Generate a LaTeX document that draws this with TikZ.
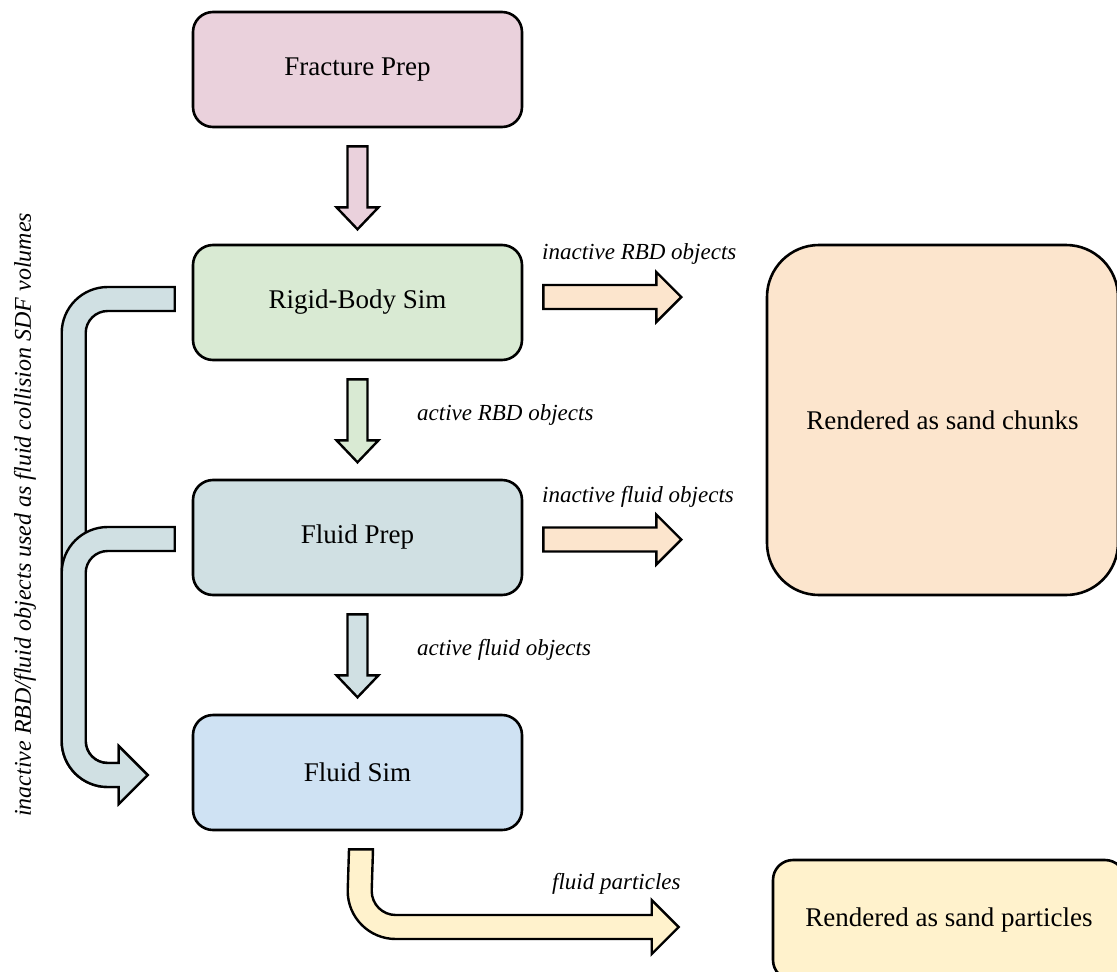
\documentclass[tikz,border=0pt]{standalone}
\usepackage{fontspec}
\setmainfont{Liberation Serif}
\usetikzlibrary{calc}

\definecolor{cPink}{HTML}{EAD1DC}
\definecolor{cGreen}{HTML}{D9EAD3}
\definecolor{cCyan}{HTML}{D0E0E3}
\definecolor{cBlue}{HTML}{CFE2F3}
\definecolor{cOrange}{HTML}{FCE5CD}
\definecolor{cYellow}{HTML}{FFF2CC}

\tikzset{
  stage/.style={draw=black, line width=2.6pt, rounded corners=20pt,
    minimum width=329pt, minimum height=115pt, inner sep=0pt,
    font=\fontsize{27}{32}\selectfont, text=black},
  lbl/.style={inner sep=0pt, font=\itshape\fontsize{23}{28}\selectfont, text=black},
  blockarrow/.style={draw=black, line width=2.4pt, line join=miter, miter limit=10},
  downarr/.pic={\path[pic actions] (-10,0) -- (10,0) -- (10,-61) -- (21,-61)
      -- (0,-83) -- (-21,-61) -- (-10,-61) -- cycle;},
  rightarr/.pic={\path[pic actions] (0,12) -- (113,12) -- (113,25) -- (138,0)
      -- (113,-25) -- (113,-12) -- (0,-12) -- cycle;}
}

% bent feedback arrow: tail at #1 (upper outer corner), head tip at #2
\newcommand\sideArrow[2]{%
  \draw[blockarrow, fill=cCyan] (#1) -- ++(-67,0)
    arc[start angle=90, end angle=180, radius=46]
    -- ($(#2)+(-86,34)$)
    arc[start angle=180, end angle=270, radius=46]
    -- ($(#2)+(-29,-12)$) -- ++(0,-17) -- (#2) -- ($(#2)+(-29,29)$)
    -- ++(0,-17) -- ++(-11,0)
    arc[start angle=270, end angle=180, radius=22]
    -- ($(#1)+(-89,-46)$)
    arc[start angle=180, end angle=90, radius=22]
    -- ($(#1)+(0,-24)$) -- cycle;}

\begin{document}
\begin{tikzpicture}[x=1pt, y=1pt]
\useasboundingbox (0,0) rectangle (1117,-972);
\clip (0,0) rectangle (1117,-972);

% pipeline stages
\node[stage, fill=cPink]  (frac)  at (357.5,-69.5)  {Fracture Prep};
\node[stage, fill=cGreen] (rbd)   at (357.5,-302.5) {Rigid-Body Sim};
\node[stage, fill=cCyan]  (fprep) at (357.5,-537.5) {Fluid Prep};
\node[stage, fill=cBlue]  (fsim)  at (357.5,-772.5) {Fluid Sim};

% render outputs
\node[stage, fill=cOrange, rounded corners=52pt, minimum width=351pt,
      minimum height=350pt] (chunks) at (942.5,-420) {Rendered as sand chunks};
\node[stage, fill=cYellow, minimum width=352pt, minimum height=120pt]
      (parts) at (949,-920) {Rendered as sand particles};

% straight block arrows down the pipeline
\pic[blockarrow, fill=cPink]  at ($(frac.south)+(0,-18)$)  {downarr};
\pic[blockarrow, fill=cGreen] at ($(rbd.south)+(0,-18)$)   {downarr};
\pic[blockarrow, fill=cCyan]  at ($(fprep.south)+(0,-18)$) {downarr};

% block arrows toward the chunk renderer
\pic[blockarrow, fill=cOrange] at ($(rbd.east)+(20,5.5)$)  {rightarr};
\pic[blockarrow, fill=cOrange] at ($(fprep.east)+(20,-2)$) {rightarr};

% collision volumes fed back into the fluid sim
\coordinate (tailA) at ($(rbd.west)+(-17,15.5)$);
\coordinate (tailB) at ($(fprep.west)+(-17,10.5)$);
\coordinate (tipA)  at ($(fsim.west)+(-44,-2.5)$);
\sideArrow{tailA}{tipA}
\sideArrow{tailB}{tipA}

% fluid particles to the particle renderer
\coordinate (tailC) at ($(fsim.south)+(-8.5,-18)$);
\coordinate (tipC)  at ($(parts.west)+(-93,-7)$);
\draw[blockarrow, fill=cYellow] (tailC) -- ++(24,0)
  -- ($(tipC)+(-307,36)$)
  arc[start angle=180, end angle=270, radius=24]
  -- ($(tipC)+(-27,12)$) -- ++(0,15) -- (tipC) -- ($(tipC)+(-27,-27)$)
  -- ++(0,15) -- ++(-256,0)
  arc[start angle=270, end angle=180, radius=48]
  -- cycle;

% labels
\node[lbl, anchor=west] (lA) at (542,-254) {inactive RBD objects};
\node[lbl, anchor=west] (lB) at (417,-415) {active RBD objects};
\node[lbl, anchor=west] (lC) at (542,-497) {inactive fluid objects};
\node[lbl, anchor=west] (lD) at (417,-650) {active fluid objects};
\node[lbl, anchor=west] (lE) at (552,-884) {fluid particles};
\node[lbl, rotate=90, font=\itshape\fontsize{24}{29}\selectfont] (lF) at (25,-515)
  {inactive RBD/fluid objects used as fluid collision SDF volumes};
\end{tikzpicture}
\end{document}
